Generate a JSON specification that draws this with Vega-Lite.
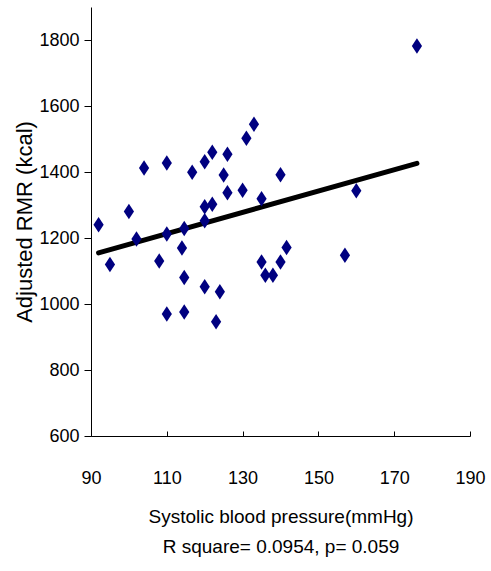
{
  "$schema": "https://vega.github.io/schema/vega-lite/v6.json",
  "autosize": "none",
  "width": 379,
  "height": 429,
  "padding": {"left": 91, "top": 7, "right": 21, "bottom": 135},
  "background": "white",
  "config": {
    "view": {"stroke": null},
    "font": "Liberation Sans, Arial, sans-serif"
  },
  "datasets": {
    "pts": [
      {"sbp": 92, "rmr": 1240}, {"sbp": 95, "rmr": 1120}, {"sbp": 100, "rmr": 1280},
      {"sbp": 102, "rmr": 1197}, {"sbp": 104, "rmr": 1412}, {"sbp": 108, "rmr": 1130},
      {"sbp": 110, "rmr": 1427}, {"sbp": 110, "rmr": 1212}, {"sbp": 110, "rmr": 970},
      {"sbp": 114, "rmr": 1170}, {"sbp": 114.6, "rmr": 1080}, {"sbp": 114.6, "rmr": 1229},
      {"sbp": 114.6, "rmr": 976}, {"sbp": 116.7, "rmr": 1399}, {"sbp": 120, "rmr": 1431},
      {"sbp": 122, "rmr": 1460}, {"sbp": 120, "rmr": 1295}, {"sbp": 122, "rmr": 1302},
      {"sbp": 120, "rmr": 1252}, {"sbp": 120, "rmr": 1052}, {"sbp": 124, "rmr": 1037},
      {"sbp": 123, "rmr": 946}, {"sbp": 125, "rmr": 1391}, {"sbp": 126, "rmr": 1454},
      {"sbp": 126, "rmr": 1337}, {"sbp": 133, "rmr": 1545}, {"sbp": 131, "rmr": 1502},
      {"sbp": 140, "rmr": 1392}, {"sbp": 130, "rmr": 1345}, {"sbp": 135, "rmr": 1319},
      {"sbp": 141.6, "rmr": 1171}, {"sbp": 135, "rmr": 1127}, {"sbp": 140, "rmr": 1127},
      {"sbp": 136, "rmr": 1087}, {"sbp": 138, "rmr": 1087}, {"sbp": 176, "rmr": 1782},
      {"sbp": 160, "rmr": 1343}, {"sbp": 157, "rmr": 1148}
    ],
    "fit": [
      {"sbp": 92, "rmr": 1155},
      {"sbp": 176, "rmr": 1426}
    ]
  },
  "encoding": {
    "x": {
      "field": "sbp", "type": "quantitative",
      "scale": {"domain": [90, 190], "nice": false, "zero": false},
      "axis": {
        "values": [90, 110, 130, 150, 170, 190],
        "format": "d",
        "title": ["Systolic blood pressure(mmHg)", "R square= 0.0954, p= 0.059"],
        "titleFontSize": 19, "titleFontWeight": "normal", "titleColor": "#000",
        "titleLineHeight": 30, "titlePadding": 20,
        "labelFontSize": 18, "labelColor": "#000", "labelPadding": 38,
        "tickSize": -5, "tickColor": "#000", "domainColor": "#000",
        "grid": false, "labelFlush": false
      }
    },
    "y": {
      "field": "rmr", "type": "quantitative",
      "scale": {"domain": [600, 1900], "nice": false, "zero": false},
      "axis": {
        "values": [600, 800, 1000, 1200, 1400, 1600, 1800],
        "format": "d",
        "title": "Adjusted RMR (kcal)",
        "titleFontSize": 22, "titleFontWeight": "normal", "titleColor": "#000",
        "titlePadding": 2,
        "labelFontSize": 18, "labelColor": "#000", "labelPadding": 5,
        "tickSize": 7, "tickColor": "#000", "domainColor": "#000",
        "grid": false
      }
    }
  },
  "layer": [
    {
      "data": {"name": "fit"},
      "mark": {"type": "line", "color": "#000", "strokeWidth": 5, "strokeCap": "round"}
    },
    {
      "data": {"name": "pts"},
      "mark": {"type": "point", "shape": "M0,-1L0.66,0L0,1L-0.66,0Z", "filled": true, "color": "#000080", "opacity": 1, "size": 240}
    }
  ]
}
